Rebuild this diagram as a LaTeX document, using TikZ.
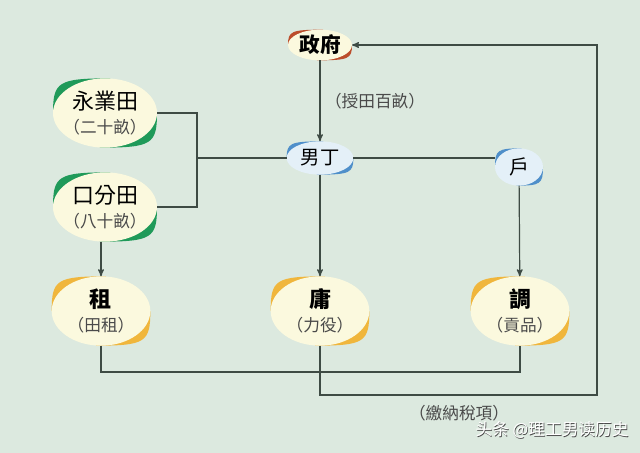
\documentclass[tikz,border=0pt]{standalone}
\usepackage{fontspec}
\setmainfont{Noto Sans CJK TC}
\newfontfamily\sccjk{Noto Sans CJK SC}
\usetikzlibrary{arrows,shapes.geometric}

\definecolor{paper}{HTML}{DCE9DF}
\definecolor{cream}{HTML}{FBF9DE}
\definecolor{sky}{HTML}{E4F0F8}
\definecolor{leaf}{HTML}{1F9A59}
\definecolor{amber}{HTML}{F0B63C}
\definecolor{rust}{HTML}{BC4D2B}
\definecolor{steel}{HTML}{4F8FCA}
\definecolor{wire}{HTML}{3E4B44}
\definecolor{note}{HTML}{4A4A4A}

\pgfdeclarelayer{paperlayer}
\pgfdeclarelayer{glowlayer}
\pgfsetlayers{paperlayer,glowlayer,main}

\newcommand\glow[4]{%
  \fill[#2] (#1.west) .. controls ([yshift=0.9*#4]#1.west) and ([xshift=-0.9*#3]#1.north) .. ([xshift=0.1*#3]#1.north) -- (#1.center) -- cycle;
  \fill[#2] (#1.east) .. controls ([yshift=-0.9*#4]#1.east) and ([xshift=0.9*#3]#1.south) .. ([xshift=-0.1*#3]#1.south) -- (#1.center) -- cycle;}
\newcommand\subline[1]{{\mdseries\fontsize{12.5}{18}\selectfont\color{note}#1}}

\begin{document}
\begin{tikzpicture}[x=0.75pt,y=-0.75pt,>=stealth',
    oval/.style={ellipse,inner xsep=-8pt,inner ysep=-2pt,outer sep=0pt,align=center},
    land node/.style={oval,fill=cream,minimum width=78pt,minimum height=52pt,font=\fontsize{16.5}{18}\selectfont},
    tax node/.style={oval,fill=cream,minimum width=74pt,minimum height=52pt,font=\bfseries\fontsize{16.5}{18}\selectfont},
    gov node/.style={oval,fill=cream,minimum width=48pt,minimum height=23pt,font=\bfseries\fontsize{15.5}{17}\selectfont},
    people node/.style={oval,fill=sky,minimum width=50pt,minimum height=25pt,font=\fontsize{14.5}{17}\selectfont},
    wire/.style={draw=wire,line width=0.9pt},
    note/.style={text=note,font=\fontsize{12.5}{14}\selectfont}]

  \begin{pgfonlayer}{paperlayer}
    \fill[paper] (0,0) rectangle (640,453);
  \end{pgfonlayer}
  \useasboundingbox (0,0) rectangle (640,453);

  \node[gov node] (gov) at (320,45) {政府};
  \node[people node] (ding) at (320,158) {男丁};
  \node[people node,minimum width=36pt,minimum height=28pt,font=\fontsize{15}{17}\selectfont] (hu) at (519,167) {戶};
  \node[land node] (yongye) at (105,113) {永業田\\\subline{（二十畝）}};
  \node[land node] (koufen) at (105,207) {口分田\\\subline{（八十畝）}};
  \node[tax node] (zu) at (101,311) {租\\\subline{（田租）}};
  \node[tax node] (yong) at (320,311) {庸\\\subline{（力役）}};
  \node[tax node] (diao) at (520,311) {調\\\subline{（貢品）}};

  \begin{pgfonlayer}{glowlayer}
    \glow{gov}{rust}{24pt}{11.5pt}
    \glow{ding}{steel}{25pt}{12.5pt}
    \glow{hu}{steel}{18pt}{14pt}
    \glow{yongye}{leaf}{39pt}{26pt}
    \glow{koufen}{leaf}{39pt}{26pt}
    \glow{zu}{amber}{37pt}{26pt}
    \glow{yong}{amber}{37pt}{26pt}
    \glow{diao}{amber}{37pt}{26pt}
  \end{pgfonlayer}

  \coordinate (fork) at (197,158);
  \coordinate (levy) at (320,372);
  \coordinate (back) at (597,395);

  \path[wire,->] (gov) -- node[note,right] (grant) {（授田百畝）} (ding);
  \path[wire] (yongye.east) -| (fork) |- (koufen.east);
  \path[wire] (fork) -- (ding.west);
  \path[wire] (ding.east) -- (ding.east -| hu.west);
  \path[wire,->] (koufen.south -| zu) -- (zu);
  \path[wire,->] (ding) -- (yong);
  \path[wire,->] (hu) -- (diao);
  \path[wire] (zu.south) |- (levy) -| (diao.south);
  \path[wire,->] (yong.south) |- (back) |- (gov.east);

  \node[note] (pay) at (459,413) {（繳納稅項）};
  \node[font=\sccjk\fontsize{12.5}{13}\selectfont,text=black!70] (markshade) at (552.8,430.8) {头条 @理工男读历史};
  \node[font=\sccjk\fontsize{12.5}{13}\selectfont,text=white] (mark) at (552,430) {头条 @理工男读历史};
\end{tikzpicture}
\end{document}
